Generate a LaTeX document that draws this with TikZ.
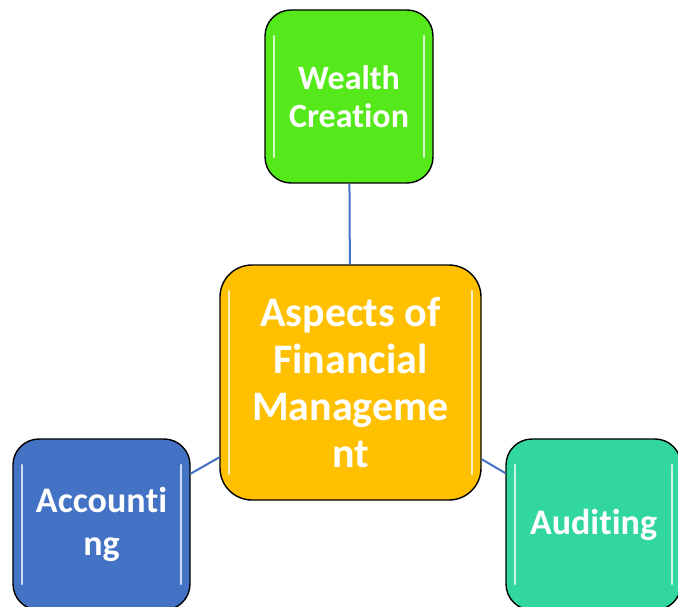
\documentclass[tikz,border=0pt]{standalone}
\usepackage{fontspec}
\setmainfont[RawFeature={-liga;-clig;-calt;-dlig}]{Carlito}
\definecolor{wealthgreen}{HTML}{55E81B}
\definecolor{mainorange}{HTML}{FFC000}
\definecolor{acctblue}{HTML}{4472C4}
\definecolor{auditteal}{HTML}{31D6A0}
\tikzset{
  box/.style={draw=black, line width=1.4pt, rounded corners=26pt, text=white,
    align=center, font=\bfseries, inner sep=0pt,
    path picture={
      \draw[white, opacity=0.75, line width=2.5pt, line cap=round]
        ([xshift=9pt,yshift=-26pt]path picture bounding box.north west) --
        ([xshift=9pt,yshift=26pt]path picture bounding box.south west);
      \draw[white, opacity=0.75, line width=2.5pt, line cap=round]
        ([xshift=-9pt,yshift=-26pt]path picture bounding box.north east) --
        ([xshift=-9pt,yshift=26pt]path picture bounding box.south east);
    }},
  link/.style={draw=acctblue, line width=2pt}
}
\begin{document}
\begin{tikzpicture}[x=1pt, y=-1pt]
  \useasboundingbox (0,0) rectangle (678,607);

  \node[box, fill=wealthgreen, minimum width=168pt, minimum height=173pt,
    font=\fontsize{34}{38}\selectfont\bfseries] (wealth) at (349,96.5) {Wealth\\Creation};
  \node[box, fill=mainorange, minimum width=261pt, minimum height=235pt, rounded corners=32pt,
    font=\fontsize{42}{47}\selectfont\bfseries] (aspects) at (350.5,382.5)
    {Aspects of\\Financial\\Manageme\\nt};
  \node[box, fill=acctblue, minimum width=177pt, minimum height=171pt,
    font=\fontsize{36}{43}\selectfont\bfseries] (accounting) at (101.5,524.5) {Accoun\kern0pt ti\\ng};
  \node[box, fill=auditteal, minimum width=175pt, minimum height=171pt,
    font=\fontsize{36}{43}\selectfont\bfseries] (auditing) at (593.5,524.5) {Audit\kern0pt ing};

  \draw[link] (aspects) -- (wealth);
  \draw[link] (aspects) -- (accounting);
  \draw[link] (aspects) -- (auditing);
\end{tikzpicture}
\end{document}
